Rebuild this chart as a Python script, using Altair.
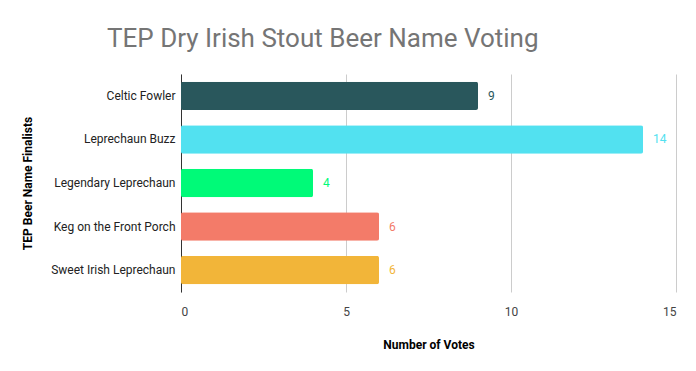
import altair as alt
import pandas as pd

names = ["Celtic Fowler", "Leprechaun Buzz", "Legendary Leprechaun", "Keg on the Front Porch", "Sweet Irish Leprechaun"]
votes = [9, 14, 4, 6, 6]
colors = ["#29575c", "#52e1f0", "#00fa78", "#f37b69", "#f2b539"]

df = pd.DataFrame({"name": names, "votes": votes, "color": colors})

y = alt.Y("name:N", sort=names, title="TEP Beer Name Finalists",
          scale=alt.Scale(paddingInner=0.35, paddingOuter=0.18),
          axis=alt.Axis(ticks=False, domain=True, domainColor="#333333", labelFontSize=12,
                        labelColor="#222222", labelPadding=6, titleFontSize=12,
                        titleFontWeight="bold", titleColor="#000000", titleX=-147, titleY=109))
x = alt.X("votes:Q", title="Number of Votes",
          scale=alt.Scale(domain=[0, 15], nice=False),
          axis=alt.Axis(values=[0, 5, 10, 15], ticks=False, domain=False, grid=True,
                        gridColor="#cccccc", labelFontSize=12, labelColor="#444444",
                        labelPadding=14, titleFontSize=12, titleFontWeight="bold",
                        titleColor="#000000", titlePadding=22))

bars = alt.Chart(df).mark_bar(cornerRadius=2).encode(
    x=x, y=y, color=alt.Color("color:N", scale=None))
labels = alt.Chart(df).mark_text(align="left", dx=10, fontSize=12, font="Roboto").encode(
    x="votes:Q", y=alt.Y("name:N", sort=names), text="votes:Q",
    color=alt.Color("color:N", scale=None))

chart = (bars + labels).properties(
    width=495, height=218,
    title=alt.Title("TEP Dry Irish Stout Beer Name Voting", fontSize=26, fontWeight="normal",
                    color="#757575", font="Roboto", anchor="start", frame="group", dx=-74, offset=22),
    padding={"left": 13, "top": 18, "right": 2, "bottom": 4},
).configure(font="Roboto").configure_view(stroke=None).configure_axis(labelFont="Roboto", titleFont="Roboto")

chart.save("out.html", embed_options={"renderer": "svg", "actions": False})
